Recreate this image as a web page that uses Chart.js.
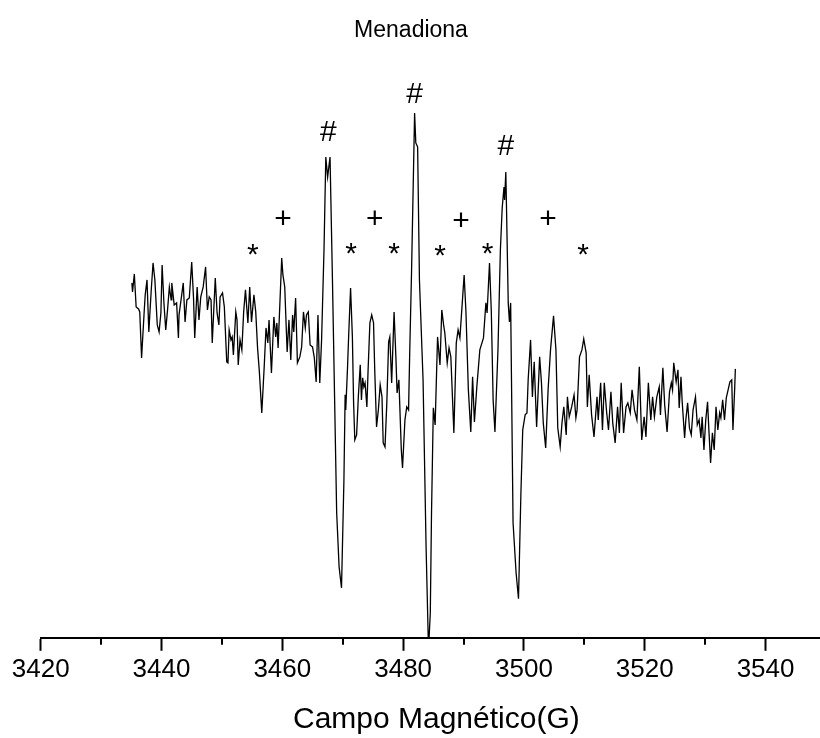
<!DOCTYPE html>
<html>
<head>
<meta charset="utf-8">
<script src="https://cdn.jsdelivr.net/npm/chart.js@4/dist/chart.umd.min.js"></script>
<style>
  html, body { margin: 0; padding: 0; background: #fff; overflow: hidden; }
  #epr { display: block; }
</style>
</head>
<body>
<canvas id="epr" width="832" height="738"></canvas>
<script>
// magnetic field (G) and signal (arbitrary units)
const fields = [
  3435.1, 3435.2, 3435.5, 3435.8, 3436.2, 3436.4, 3436.7, 3437.1, 3437.3, 3437.6,
  3437.9, 3438.3, 3438.6, 3438.9, 3439.3, 3439.6, 3439.9, 3440.1, 3440.4, 3440.7,
  3441.0, 3441.3, 3441.6, 3441.7, 3442.1, 3442.5, 3442.8, 3442.9, 3443.3, 3443.6,
  3443.9, 3444.2, 3444.6, 3445.0, 3445.3, 3445.5, 3445.9, 3446.2, 3446.5, 3446.9,
  3447.3, 3447.6, 3447.9, 3448.2, 3448.4, 3448.9, 3449.2, 3449.5, 3449.7, 3450.1,
  3450.4, 3450.8, 3451.0, 3451.2, 3451.5, 3451.7, 3451.9, 3452.3, 3452.5, 3452.7,
  3453.0, 3453.3, 3453.6, 3453.9, 3454.3, 3454.6, 3454.9, 3455.3, 3455.6, 3455.9,
  3456.2, 3456.6, 3457.0, 3457.3, 3457.6, 3457.8, 3458.2, 3458.6, 3458.9, 3459.1,
  3459.3, 3459.6, 3459.9, 3460.1, 3460.4, 3460.8, 3461.1, 3461.4, 3461.7, 3461.9,
  3462.2, 3462.5, 3462.9, 3463.2, 3463.5, 3463.8, 3464.0, 3464.3, 3464.6, 3465.0,
  3465.3, 3465.6, 3465.9, 3466.2, 3466.5, 3466.9, 3467.2, 3467.5, 3467.9, 3468.3,
  3469.0, 3469.4, 3469.8, 3470.2, 3470.4, 3470.5, 3470.8, 3471.0, 3471.3, 3471.6,
  3471.8, 3472.0, 3472.3, 3472.6, 3472.9, 3473.1, 3473.3, 3473.5, 3473.7, 3474.0,
  3474.2, 3474.5, 3474.8, 3475.1, 3475.3, 3475.6, 3475.9, 3476.2, 3476.5, 3476.7,
  3477.0, 3477.3, 3477.6, 3477.8, 3478.1, 3478.5, 3478.8, 3479.0, 3479.3, 3479.7,
  3479.9, 3480.3, 3480.6, 3480.9, 3481.1, 3481.4, 3481.9, 3482.1, 3482.4, 3482.7,
  3483.3, 3483.8, 3484.2, 3484.5, 3484.7, 3485.0, 3485.3, 3485.7, 3486.1, 3486.4,
  3486.7, 3486.9, 3487.3, 3487.6, 3487.9, 3488.4, 3488.8, 3489.1, 3489.4, 3490.1,
  3490.4, 3490.8, 3491.2, 3491.5, 3491.8, 3492.2, 3492.7, 3493.3, 3493.7, 3493.9,
  3494.3, 3494.6, 3494.9, 3495.2, 3495.7, 3496.1, 3496.4, 3496.7, 3496.8, 3497.0,
  3497.1, 3497.4, 3497.6, 3497.8, 3498.2, 3498.7, 3499.1, 3499.5, 3499.8, 3500.2,
  3500.5, 3500.7, 3501.1, 3501.4, 3501.7, 3502.1, 3502.6, 3502.9, 3503.2, 3503.6,
  3504.0, 3504.4, 3504.9, 3505.3, 3505.6, 3506.0, 3506.3, 3506.6, 3507.0, 3507.2,
  3507.5, 3507.9, 3508.3, 3508.6, 3508.8, 3509.2, 3509.6, 3509.9, 3510.3, 3510.5,
  3510.8, 3511.2, 3511.6, 3512.1, 3512.3, 3512.7, 3513.0, 3513.3, 3513.7, 3514.0,
  3514.4, 3514.7, 3515.1, 3515.5, 3515.8, 3516.1, 3516.5, 3516.9, 3517.2, 3517.6,
  3517.9, 3518.3, 3518.7, 3519.1, 3519.5, 3519.9, 3520.2, 3520.6, 3521.0, 3521.3,
  3521.6, 3522.0, 3522.4, 3522.6, 3523.0, 3523.3, 3523.7, 3524.1, 3524.4, 3524.6,
  3524.8, 3525.2, 3525.5, 3525.7, 3526.0, 3526.2, 3526.6, 3526.8, 3527.1, 3527.4,
  3527.7, 3528.0, 3528.4, 3528.7, 3529.0, 3529.3, 3529.5, 3529.8, 3530.1, 3530.4,
  3530.6, 3530.9, 3531.2, 3531.5, 3531.8, 3532.1, 3532.4, 3532.6, 3532.9, 3533.2,
  3533.5, 3533.8, 3534.1, 3534.4, 3534.6, 3534.9, 3535.0
];
const intensity = [
  57, 48, 66, 33, 31, 28, -18, 25, 45, 60,
  8, 50, 77, 60, 15, 8, 27, 75, 37, 10,
  30, 53, 40, 57, 35, 37, 2, 25, 43, 57,
  18, 40, 42, 78, 42, 2, 53, 20, 43, 53,
  73, 30, 43, 40, -3, 62, 27, 15, 43, 47,
  33, -22, -23, 10, 0, 3, -15, 28, 20, -25,
  0, -10, 28, 50, 17, 53, 18, 45, 28, -8,
  -32, -73, -27, 12, -3, 20, -33, 23, 3, 17,
  -8, 37, 82, 65, 53, -12, 20, -20, 25, 8,
  42, -23, -17, -7, 28, 12, 25, 28, -5, -7,
  -18, -42, 25, -43, 0, 90, 183, 163, 183, 60,
  -173, -227, -248, -140, -55, -70, -27, 7, 52, 3,
  -63, -100, -95, -55, -25, -60, -38, -47, -43, -67,
  -30, 17, 25, 17, -30, -87, -70, -45, -57, -103,
  -107, -63, -2, 3, -43, 28, -17, -53, -40, -110,
  -128, -80, -67, -70, -10, 70, 227, 197, 193, 60,
  -40, -207, -310, -273, -173, -68, -85, 3, -25, 30,
  15, 7, -23, -8, -17, -93, -3, 10, 2, 65,
  28, -50, -92, -37, -82, -47, -10, 2, 37, 27,
  77, 28, -60, -92, -10, 90, 132, 153, 140, 168,
  137, 37, 18, 37, -183, -233, -259, -153, -90, -75,
  -73, -40, 0, -57, -22, -87, -17, -43, -83, -108,
  -50, -10, 24, -10, -88, -107, -83, -67, -95, -57,
  -77, -67, -55, -78, -70, -17, -10, 1, -13, -67,
  -35, -75, -97, -57, -80, -43, -90, -43, -73, -90,
  -52, -83, -103, -67, -93, -43, -93, -67, -63, -73,
  -50, -70, -80, -27, -100, -77, -97, -43, -80, -57,
  -77, -57, -47, -75, -28, -65, -92, -52, -43, -50,
  -23, -42, -30, -68, -37, -62, -98, -80, -63, -88,
  -95, -70, -57, -85, -80, -98, -77, -110, -80, -62,
  -88, -123, -93, -110, -67, -90, -73, -78, -60, -80,
  -58, -50, -42, -40, -90, -47, -29
];

// hyperfine line markers
const markSymbols = ["#", "#", "#", "+", "+", "+", "+", "*", "*", "*", "*", "*", "*"];
const markFields = [3467.6, 3481.9, 3497.0, 3460.1, 3475.3, 3489.6, 3504.0, 3455.1, 3471.4, 3478.5, 3486.1, 3494.0, 3509.8];
const markValues = [207, 245, 193, 120, 120, 118, 120, 91, 92, 92, 90, 92, 91];

const minorTicks = [3430, 3450, 3470, 3490, 3510, 3530, 3550];

const chartTitle = "Menadiona";
const FONT = "'Liberation Sans', Arial, Helvetica, sans-serif";

const points = fields.map((f, i) => ({ x: f, y: intensity[i] }));

const extras = {
  id: "extras",
  afterDraw(chart) {
    const ctx = chart.ctx;
    const xs = chart.scales.x;
    const ys = chart.scales.y;
    const bottom = chart.chartArea.bottom;
    ctx.save();
    // minor ticks
    ctx.strokeStyle = "#000";
    ctx.lineWidth = 2;
    minorTicks.forEach((v) => {
      const px = Math.round(xs.getPixelForValue(v));
      ctx.beginPath();
      ctx.moveTo(px, bottom);
      ctx.lineTo(px, bottom + 7);
      ctx.stroke();
    });
    ctx.fillStyle = "#000";
    ctx.textAlign = "center";
    ctx.textBaseline = "middle";
    // title, centred on the page rather than on the plot
    ctx.font = "23px " + FONT;
    ctx.fillText(chartTitle, 411, 31);
    // peak markers
    ctx.font = "30px " + FONT;
    markSymbols.forEach((s, i) => {
      const px = xs.getPixelForValue(markFields[i]);
      let py = ys.getPixelForValue(markValues[i]);
      if (s === "*") py += 7; // asterisk sits high in the em box
      ctx.fillText(s, px, py);
    });
    ctx.restore();
  },
};

new Chart(document.getElementById("epr").getContext("2d"), {
  type: "line",
  data: {
    datasets: [
      {
        data: points,
        borderColor: "#000",
        borderWidth: 1.3,
        pointRadius: 0,
        tension: 0,
        fill: false,
      },
    ],
  },
  options: {
    responsive: false,
    animation: false,
    layout: { padding: { left: 40.7, right: 0, top: 60, bottom: 0 } },
    plugins: {
      legend: { display: false },
      tooltip: { enabled: false },
      title: { display: false },
    },
    scales: {
      x: {
        type: "linear",
        min: 3420,
        max: 3551,
        ticks: {
          stepSize: 20,
          includeBounds: false,
          color: "#000",
          padding: 3,
          maxRotation: 0,
          font: { family: FONT, size: 26 },
          callback: (v) => String(v),
        },
        grid: {
          drawOnChartArea: false,
          drawTicks: true,
          tickLength: 13,
          tickWidth: 2,
          tickColor: "#000",
        },
        border: { display: true, color: "#000", width: 2 },
        title: {
          display: true,
          text: "Campo Magnético(G)",
          color: "#000",
          font: { family: FONT, size: 30 },
          padding: { top: 14, bottom: 0 },
        },
      },
      y: {
        display: false,
        min: -298,
        max: 280,
      },
    },
  },
  plugins: [extras],
});
</script>
</body>
</html>
